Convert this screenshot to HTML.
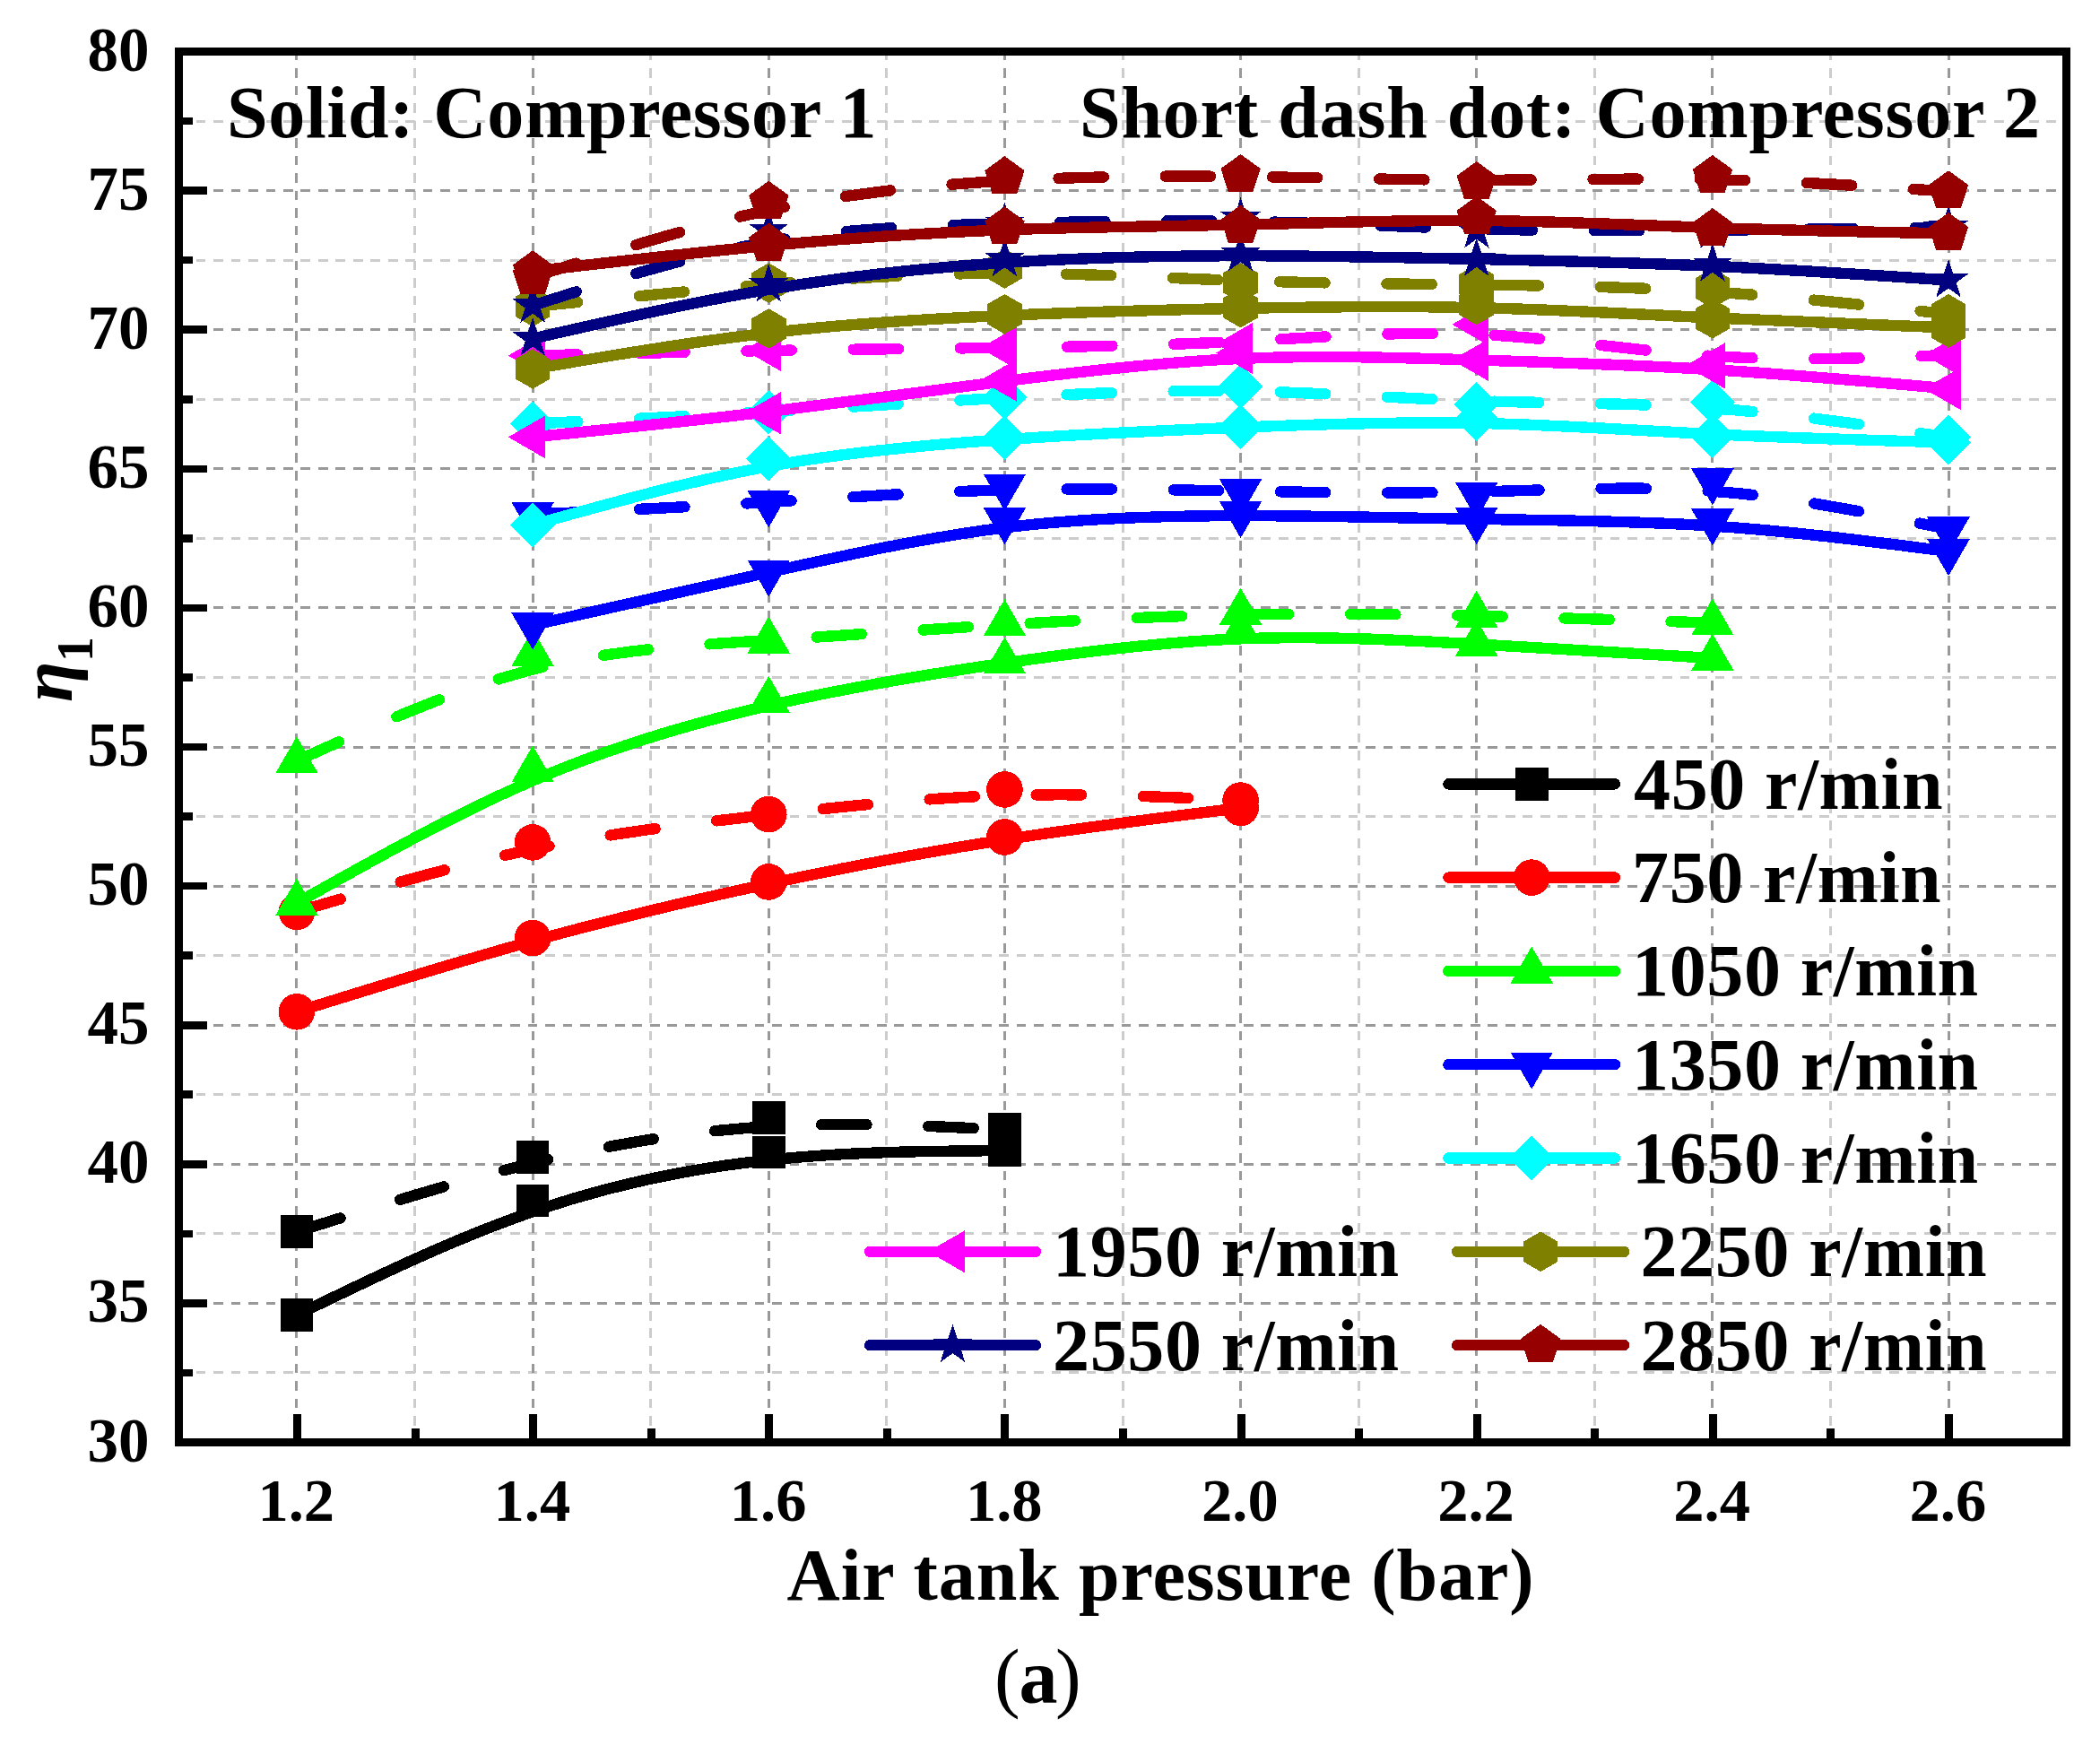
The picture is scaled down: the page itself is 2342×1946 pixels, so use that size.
<!DOCTYPE html>
<html lang="en"><head><meta charset="utf-8"><title>Compressor efficiency vs air tank pressure</title>
<style>html,body{margin:0;padding:0;background:#fff}svg{display:block}text{font-family:"Liberation Serif","Times New Roman",serif;font-weight:bold;fill:#000}</style>
</head><body>
<svg width="2342" height="1946" viewBox="0 0 2342 1946">
<rect width="2342" height="1946" fill="#fff"/>
<g fill="none" stroke-width="3" shape-rendering="crispEdges">
<path d="M199.2,1530.95H2304.6" stroke="#cccccc" stroke-dasharray="10.7 8.77"/>
<path d="M199.2,1375.85H2304.6" stroke="#cccccc" stroke-dasharray="10.7 8.77"/>
<path d="M199.2,1220.75H2304.6" stroke="#cccccc" stroke-dasharray="10.7 8.77"/>
<path d="M199.2,1065.65H2304.6" stroke="#cccccc" stroke-dasharray="10.7 8.77"/>
<path d="M199.2,910.55H2304.6" stroke="#cccccc" stroke-dasharray="10.7 8.77"/>
<path d="M199.2,755.45H2304.6" stroke="#cccccc" stroke-dasharray="10.7 8.77"/>
<path d="M199.2,600.35H2304.6" stroke="#cccccc" stroke-dasharray="10.7 8.77"/>
<path d="M199.2,445.25H2304.6" stroke="#cccccc" stroke-dasharray="10.7 8.77"/>
<path d="M199.2,290.15H2304.6" stroke="#cccccc" stroke-dasharray="10.7 8.77"/>
<path d="M199.2,135.05H2304.6" stroke="#cccccc" stroke-dasharray="10.7 8.77"/>
<path d="M462.55,56.5V1608.5" stroke="#cccccc" stroke-dasharray="10.7 8.82"/>
<path d="M725.7,56.5V1608.5" stroke="#cccccc" stroke-dasharray="10.7 8.82"/>
<path d="M988.85,56.5V1608.5" stroke="#cccccc" stroke-dasharray="10.7 8.82"/>
<path d="M1252,56.5V1608.5" stroke="#cccccc" stroke-dasharray="10.7 8.82"/>
<path d="M1515.15,56.5V1608.5" stroke="#cccccc" stroke-dasharray="10.7 8.82"/>
<path d="M1778.3,56.5V1608.5" stroke="#cccccc" stroke-dasharray="10.7 8.82"/>
<path d="M2041.45,56.5V1608.5" stroke="#cccccc" stroke-dasharray="10.7 8.82"/>
<path d="M199.2,1453.4H2304.6" stroke="#999999" stroke-dasharray="10.7 8.77"/>
<path d="M199.2,1298.3H2304.6" stroke="#999999" stroke-dasharray="10.7 8.77"/>
<path d="M199.2,1143.2H2304.6" stroke="#999999" stroke-dasharray="10.7 8.77"/>
<path d="M199.2,988.1H2304.6" stroke="#999999" stroke-dasharray="10.7 8.77"/>
<path d="M199.2,833H2304.6" stroke="#999999" stroke-dasharray="10.7 8.77"/>
<path d="M199.2,677.9H2304.6" stroke="#999999" stroke-dasharray="10.7 8.77"/>
<path d="M199.2,522.8H2304.6" stroke="#999999" stroke-dasharray="10.7 8.77"/>
<path d="M199.2,367.7H2304.6" stroke="#999999" stroke-dasharray="10.7 8.77"/>
<path d="M199.2,212.6H2304.6" stroke="#999999" stroke-dasharray="10.7 8.77"/>
<path d="M330.98,56.5V1608.5" stroke="#999999" stroke-dasharray="10.7 8.82"/>
<path d="M594.12,56.5V1608.5" stroke="#999999" stroke-dasharray="10.7 8.82"/>
<path d="M857.27,56.5V1608.5" stroke="#999999" stroke-dasharray="10.7 8.82"/>
<path d="M1120.43,56.5V1608.5" stroke="#999999" stroke-dasharray="10.7 8.82"/>
<path d="M1383.57,56.5V1608.5" stroke="#999999" stroke-dasharray="10.7 8.82"/>
<path d="M1646.72,56.5V1608.5" stroke="#999999" stroke-dasharray="10.7 8.82"/>
<path d="M1909.88,56.5V1608.5" stroke="#999999" stroke-dasharray="10.7 8.82"/>
<path d="M2173.02,56.5V1608.5" stroke="#999999" stroke-dasharray="10.7 8.82"/>
</g>
<g fill="none" stroke-width="12.4" stroke-linecap="round" stroke-linejoin="round" shape-rendering="crispEdges">
<path d="M330.97,1466.43C418.69,1423.93 506.41,1381.43 594.12,1351.19C681.84,1320.94 769.56,1302.95 857.27,1293.65C944.99,1284.34 1032.71,1283.72 1120.42,1283.1" stroke="#000000"/>
<g stroke="none"><rect x="312.62" y="1448.08" width="36.7" height="36.7" fill="#000000"/><rect x="575.77" y="1320.59" width="36.7" height="36.7" fill="#000000"/><rect x="838.92" y="1266.61" width="36.7" height="36.7" fill="#000000"/><rect x="1102.08" y="1264.75" width="36.7" height="36.7" fill="#000000"/></g>
<path d="M330.97,1373.68L340.37,1370.71L368.57,1361.82L379.52,1358.38M446.12,1337.85L453.15,1335.74L481.35,1327.4L494.88,1323.49M561.95,1305.15L565.93,1304.13L594.12,1297.11L611.17,1293.09M678.96,1278.8L688.11,1277.1L716.3,1272.19L728.71,1270.21M797.17,1261.23L800.89,1260.83L829.08,1258.24L847.33,1256.89M916.19,1254.15L923.06,1254.06L951.26,1253.97L966.49,1254.11M1035.37,1255.94L1035.84,1255.96L1064.04,1257.14L1085.63,1258.14" stroke="#000000"/>
<g stroke="none"><rect x="312.62" y="1355.33" width="36.7" height="36.7" fill="#000000"/><rect x="575.77" y="1272.2" width="36.7" height="36.7" fill="#000000"/><rect x="838.92" y="1228.46" width="36.7" height="36.7" fill="#000000"/><rect x="1102.08" y="1241.49" width="36.7" height="36.7" fill="#000000"/></g>
<path d="M330.97,1128.31C418.69,1100.91 506.41,1073.51 594.12,1049.36C681.84,1025.22 769.56,1004.33 857.27,985.57C944.99,966.8 1032.71,950.15 1120.42,936.4C1208.14,922.65 1295.86,911.79 1383.57,900.93" stroke="#ff0000"/>
<g stroke="none"><circle cx="330.97" cy="1128.31" r="20.3" fill="#ff0000"/><circle cx="594.12" cy="1046.11" r="20.3" fill="#ff0000"/><circle cx="857.27" cy="983.45" r="20.3" fill="#ff0000"/><circle cx="1120.42" cy="933.5" r="20.3" fill="#ff0000"/><circle cx="1383.57" cy="900.93" r="20.3" fill="#ff0000"/></g>
<path d="M330.97,1016.95L340.37,1014.18L368.57,1005.89L379.74,1002.63M446.65,983.52L453.15,981.71L481.35,974.07L495.65,970.31M563.08,953.84L565.93,953.19L594.12,947.1L612.57,943.4M680.7,931.44L688.11,930.28L716.3,926.1L730.6,924.1M799.09,915.37L800.89,915.16L829.08,911.88L849.14,909.6M917.74,902.09L923.06,901.53L951.26,898.67L967.85,897.08M1036.58,891.37L1045.24,890.77L1073.43,889.06L1086.81,888.39M1155.69,886.38L1158.02,886.36L1186.21,886.28L1205.99,886.43M1274.87,888.03L1280.19,888.21L1308.39,889.26L1325.14,889.95" stroke="#ff0000"/>
<g stroke="none"><circle cx="330.97" cy="1016.95" r="20.3" fill="#ff0000"/><circle cx="594.12" cy="939.4" r="20.3" fill="#ff0000"/><circle cx="857.27" cy="908.07" r="20.3" fill="#ff0000"/><circle cx="1120.42" cy="880.46" r="20.3" fill="#ff0000"/><circle cx="1383.57" cy="892.56" r="20.3" fill="#ff0000"/></g>
<path d="M330.97,1007.02C418.69,957.6 506.41,908.17 594.12,870.53C681.84,832.9 769.56,807.05 857.27,786.88C944.99,766.72 1032.71,752.24 1120.42,739.47C1208.14,726.7 1295.86,715.64 1383.57,712.33C1471.29,709.02 1559.01,713.47 1646.72,718.38C1734.44,723.29 1822.16,728.67 1909.87,734.05" stroke="#00ff00"/>
<g stroke="none"><polygon points="330.97,979.66 307.27,1020.71 354.67,1020.71" fill="#00ff00"/><polygon points="594.12,831.38 570.42,872.43 617.82,872.43" fill="#00ff00"/><polygon points="857.27,753.83 833.57,794.88 880.97,794.88" fill="#00ff00"/><polygon points="1120.42,710.4 1096.72,751.45 1144.12,751.45" fill="#00ff00"/><polygon points="1383.57,677.21 1359.87,718.26 1407.27,718.26" fill="#00ff00"/><polygon points="1646.72,690.55 1623.02,731.6 1670.42,731.6" fill="#00ff00"/><polygon points="1909.87,706.68 1886.17,747.73 1933.57,747.73" fill="#00ff00"/></g>
<path d="M330.97,848.51L340.37,844.25L368.57,831.5L377.86,827.33M442.4,799.28L443.75,798.71L471.95,787.23L489.95,780.23M555.98,757.36L556.53,757.18L584.73,749.06L604.93,743.96M672.89,730.83L678.71,729.95L706.9,726.17L722.87,724.35M791.57,718.3L800.89,717.64L829.08,715.78L841.79,714.97M910.58,710.51L913.66,710.3L941.86,708.41L960.8,707.13M1029.58,702.49L1035.84,702.08L1064.04,700.22L1079.8,699.2M1148.61,695L1148.62,694.99L1176.81,693.41L1198.85,692.24M1267.7,689.02L1270.8,688.89L1298.99,687.81L1317.97,687.17M1386.86,685.44L1392.97,685.34L1421.17,684.97L1437.15,684.84M1506.05,684.8L1515.15,684.86L1543.34,685.11L1556.35,685.27M1625.24,686.44L1627.93,686.49L1656.12,687.11L1675.53,687.57M1744.42,689.42L1750.11,689.59L1778.3,690.42L1794.7,690.93M1863.57,693.13L1872.28,693.41L1900.48,694.34L1909.87,694.65" stroke="#00ff00"/>
<g stroke="none"><polygon points="330.97,821.14 307.27,862.19 354.67,862.19" fill="#00ff00"/><polygon points="594.12,701.72 570.42,742.77 617.82,742.77" fill="#00ff00"/><polygon points="857.27,687.45 833.57,728.5 880.97,728.5" fill="#00ff00"/><polygon points="1120.42,668.21 1096.72,709.26 1144.12,709.26" fill="#00ff00"/><polygon points="1383.57,655.5 1359.87,696.55 1407.27,696.55" fill="#00ff00"/><polygon points="1646.72,658.6 1623.02,699.65 1670.42,699.65" fill="#00ff00"/><polygon points="1909.87,667.28 1886.17,708.33 1933.57,708.33" fill="#00ff00"/></g>
<path d="M594.12,697.13C681.84,677.49 769.56,657.84 857.27,638.3C944.99,618.76 1032.71,599.32 1120.42,588.41C1208.14,577.5 1295.86,575.12 1383.57,575.12C1471.29,575.12 1559.01,577.5 1646.72,578.89C1734.44,580.29 1822.16,580.7 1909.87,586.55C1997.59,592.39 2085.31,603.66 2173.02,614.93" stroke="#0000ff"/>
<g stroke="none"><polygon points="594.12,724.5 570.42,683.45 617.82,683.45" fill="#0000ff"/><polygon points="857.27,665.56 833.57,624.51 880.97,624.51" fill="#0000ff"/><polygon points="1120.42,607.24 1096.72,566.19 1144.12,566.19" fill="#0000ff"/><polygon points="1383.57,600.11 1359.87,559.06 1407.27,559.06" fill="#0000ff"/><polygon points="1646.72,607.24 1623.02,566.19 1670.42,566.19" fill="#0000ff"/><polygon points="1909.87,608.48 1886.17,567.43 1933.57,567.43" fill="#0000ff"/><polygon points="2173.02,642.3 2149.32,601.25 2196.72,601.25" fill="#0000ff"/></g>
<path d="M594.12,573.67L603.52,573.22L631.72,571.85L644.38,571.24M713.22,567.83L716.3,567.67L744.5,566.22L763.47,565.23M832.29,561.43L838.48,561.08L866.67,559.41L882.53,558.45M951.33,554.23L960.66,553.67L988.85,552.03L1001.57,551.32M1070.41,548.02L1073.43,547.9L1101.63,546.9L1120.69,546.37M1189.58,545.42L1195.61,545.4L1223.81,545.42L1239.88,545.51M1308.78,546.32L1317.79,546.46L1345.98,546.94L1359.07,547.18M1427.97,548.36L1430.57,548.4L1458.76,548.8L1478.26,549.03M1547.16,549.45L1552.74,549.45L1580.94,549.36L1597.46,549.23M1666.35,547.96L1674.92,547.72L1703.11,546.88L1716.64,546.48M1785.52,544.83L1787.7,544.8L1815.89,544.61L1835.82,544.73M1904.68,547.36L1909.87,547.72L1938.07,550.16L1954.82,551.97M2023.22,561.52L2032.05,562.98L2060.25,567.89L2072.96,570.23M2140.9,583.55L2144.83,584.34L2173.02,590.11" stroke="#0000ff"/>
<g stroke="none"><polygon points="594.12,601.04 570.42,559.99 617.82,559.99" fill="#0000ff"/><polygon points="857.27,588.32 833.57,547.27 880.97,547.27" fill="#0000ff"/><polygon points="1120.42,569.71 1096.72,528.66 1144.12,528.66" fill="#0000ff"/><polygon points="1383.57,575.29 1359.87,534.24 1407.27,534.24" fill="#0000ff"/><polygon points="1646.72,579.02 1623.02,537.97 1670.42,537.97" fill="#0000ff"/><polygon points="1909.87,563.51 1886.17,522.46 1933.57,522.46" fill="#0000ff"/><polygon points="2173.02,617.48 2149.32,576.43 2196.72,576.43" fill="#0000ff"/></g>
<path d="M594.12,585.46C681.84,560.85 769.56,536.24 857.27,520.06C944.99,503.88 1032.71,496.12 1120.42,490.18C1208.14,484.23 1295.86,480.1 1383.57,476.58C1471.29,473.06 1559.01,470.17 1646.72,471.88C1734.44,473.58 1822.16,479.89 1909.87,484.23C1997.59,488.57 2085.31,490.95 2173.02,493.33" stroke="#00ffff"/>
<g stroke="none"><polygon points="594.12,560.56 619.02,585.46 594.12,610.36 569.22,585.46" fill="#00ffff"/><polygon points="857.27,486.73 882.17,511.63 857.27,536.53 832.37,511.63" fill="#00ffff"/><polygon points="1120.42,463.47 1145.33,488.37 1120.42,513.27 1095.52,488.37" fill="#00ffff"/><polygon points="1383.57,451.06 1408.47,475.96 1383.57,500.86 1358.67,475.96" fill="#00ffff"/><polygon points="1646.72,442.37 1671.62,467.27 1646.72,492.17 1621.82,467.27" fill="#00ffff"/><polygon points="1909.87,461.3 1934.77,486.2 1909.87,511.1 1884.97,486.2" fill="#00ffff"/><polygon points="2173.02,468.43 2197.92,493.33 2173.02,518.23 2148.12,493.33" fill="#00ffff"/></g>
<path d="M594.12,472.55L603.52,472.09L631.72,470.73L644.38,470.11M713.22,466.72L716.3,466.57L744.5,465.15L763.47,464.17M832.3,460.5L838.48,460.16L866.67,458.57L882.54,457.66M951.35,453.58L960.66,453.02L988.85,451.32L1001.58,450.55M1070.39,446.47L1073.43,446.3L1101.63,444.69L1120.63,443.64M1189.47,440.13L1195.61,439.84L1223.81,438.65L1239.74,438.06M1308.62,436.29L1317.79,436.17L1345.98,435.99L1358.92,436.02M1427.81,437.34L1430.57,437.43L1458.76,438.49L1478.08,439.33M1546.92,442.7L1552.74,442.99L1580.94,444.38L1597.17,445.14M1666.04,447.69L1674.92,447.93L1703.11,448.56L1716.33,448.82M1785.22,450.15L1787.7,450.2L1815.89,450.92L1835.5,451.55M1904.34,454.96L1909.87,455.33L1938.07,457.54L1954.51,459.04M2023.11,466.59L2032.05,467.72L2060.25,471.41L2073.09,473.17M2141.46,483.03L2144.83,483.54L2173.02,487.75" stroke="#00ffff"/>
<g stroke="none"><polygon points="594.12,447.65 619.02,472.55 594.12,497.45 569.22,472.55" fill="#00ffff"/><polygon points="857.27,434.93 882.17,459.83 857.27,484.73 832.37,459.83" fill="#00ffff"/><polygon points="1120.42,417.87 1145.33,442.77 1120.42,467.67 1095.52,442.77" fill="#00ffff"/><polygon points="1383.57,406.08 1408.47,430.98 1383.57,455.88 1358.67,430.98" fill="#00ffff"/><polygon points="1646.72,425.93 1671.62,450.83 1646.72,475.73 1621.82,450.83" fill="#00ffff"/><polygon points="1909.87,423.45 1934.77,448.35 1909.87,473.25 1884.97,448.35" fill="#00ffff"/><polygon points="2173.02,462.85 2197.92,487.75 2173.02,512.65 2148.12,487.75" fill="#00ffff"/></g>
<path d="M594.12,487.44C681.84,478.54 769.56,469.65 857.27,459.11C944.99,448.56 1032.71,436.36 1120.42,425.14C1208.14,413.92 1295.86,403.68 1383.57,399.91C1471.29,396.13 1559.01,398.82 1646.72,401.51C1734.44,404.2 1822.16,406.89 1909.87,412.21C1997.59,417.54 2085.31,425.5 2173.02,433.46" stroke="#ff00ff"/>
<g stroke="none"><polygon points="566.76,487.44 607.81,463.74 607.81,511.14" fill="#ff00ff"/><polygon points="829.91,460.76 870.96,437.06 870.96,484.46" fill="#ff00ff"/><polygon points="1093.06,424.16 1134.11,400.46 1134.11,447.86" fill="#ff00ff"/><polygon points="1356.21,393.45 1397.26,369.75 1397.26,417.15" fill="#ff00ff"/><polygon points="1619.36,401.51 1660.41,377.81 1660.41,425.21" fill="#ff00ff"/><polygon points="1882.51,409.58 1923.56,385.88 1923.56,433.28" fill="#ff00ff"/><polygon points="2145.66,433.46 2186.71,409.76 2186.71,457.16" fill="#ff00ff"/></g>
<path d="M594.12,396.55L603.52,396.33L631.72,395.66L644.41,395.37M713.3,393.8L716.3,393.74L744.5,393.13L763.59,392.73M832.48,391.43L838.48,391.33L866.67,390.87L882.78,390.63M951.67,389.72L960.66,389.62L988.85,389.29L1001.97,389.14M1070.87,388.37L1073.43,388.34L1101.63,388L1121.17,387.75M1190.06,386.72L1195.61,386.63L1223.81,386.08L1240.35,385.72M1309.23,383.77L1317.79,383.48L1345.98,382.39L1359.5,381.81M1428.34,378.26L1430.57,378.13L1458.76,376.54L1478.58,375.46M1547.43,372.51L1552.74,372.36L1580.94,371.84L1597.72,371.77M1666.59,373.86L1674.92,374.39L1703.11,376.56L1716.78,377.8M1785.4,385.02L1787.7,385.27L1815.89,388.41L1835.47,390.51M1904.17,396.67L1909.87,397.07L1938.07,398.59L1954.42,399.21M2023.31,400.08L2032.05,400.01L2060.25,399.6L2073.61,399.3M2142.48,397.1L2144.83,397.01L2173.02,395.93" stroke="#ff00ff"/>
<g stroke="none"><polygon points="566.76,396.55 607.81,372.85 607.81,420.25" fill="#ff00ff"/><polygon points="829.91,390.34 870.96,366.64 870.96,414.04" fill="#ff00ff"/><polygon points="1093.06,388.17 1134.11,364.47 1134.11,411.87" fill="#ff00ff"/><polygon points="1356.21,383.52 1397.26,359.82 1397.26,407.22" fill="#ff00ff"/><polygon points="1619.36,361.81 1660.41,338.11 1660.41,385.51" fill="#ff00ff"/><polygon points="1882.51,406.16 1923.56,382.46 1923.56,429.86" fill="#ff00ff"/><polygon points="2145.66,395.93 2186.71,372.23 2186.71,419.63" fill="#ff00ff"/></g>
<path d="M594.12,411.44C681.84,396.45 769.56,381.45 857.27,371.27C944.99,361.08 1032.71,355.71 1120.42,351.83C1208.14,347.95 1295.86,345.57 1383.57,343.87C1471.29,342.16 1559.01,341.13 1646.72,343.14C1734.44,345.16 1822.16,350.23 1909.87,354.46C1997.59,358.7 2085.31,362.12 2173.02,365.53" stroke="#808000"/>
<g stroke="none"><polygon points="594.12,389.14 613.44,400.29 613.44,422.59 594.12,433.74 574.81,422.59 574.81,400.29" fill="#808000"/><polygon points="857.27,344.16 876.59,355.31 876.59,377.61 857.27,388.76 837.96,377.61 837.96,355.31" fill="#808000"/><polygon points="1120.42,328.03 1139.74,339.18 1139.74,361.48 1120.42,372.63 1101.11,361.48 1101.11,339.18" fill="#808000"/><polygon points="1383.57,320.89 1402.89,332.04 1402.89,354.34 1383.57,365.49 1364.26,354.34 1364.26,332.04" fill="#808000"/><polygon points="1646.72,317.79 1666.04,328.94 1666.04,351.24 1646.72,362.39 1627.41,351.24 1627.41,328.94" fill="#808000"/><polygon points="1909.87,332.99 1929.19,344.14 1929.19,366.44 1909.87,377.59 1890.56,366.44 1890.56,344.14" fill="#808000"/><polygon points="2173.02,343.23 2192.34,354.38 2192.34,376.68 2173.02,387.83 2153.71,376.68 2153.71,354.38" fill="#808000"/></g>
<path d="M594.12,341.95L603.52,341.01L631.72,338.19L644.24,336.94M712.9,330.21L716.3,329.88L744.5,327.2L763.03,325.48M831.73,319.4L838.48,318.84L866.67,316.54L881.91,315.35M950.69,310.56L951.26,310.52L979.45,308.89L1000.93,307.81M1069.8,305.38L1073.43,305.3L1101.63,304.87L1120.1,304.78M1188.99,305.69L1195.61,305.86L1223.81,306.72L1239.27,307.27M1308.13,310.02L1308.39,310.03L1336.58,311.19L1358.4,312.05M1427.27,314.24L1430.57,314.32L1458.76,314.97L1477.57,315.34M1546.46,316.4L1552.74,316.48L1580.94,316.81L1596.76,316.99M1665.65,317.78L1674.92,317.9L1703.11,318.31L1715.95,318.52M1784.84,320.05L1787.7,320.13L1815.89,321.03L1835.11,321.75M1903.95,325.2L1909.87,325.56L1938.07,327.48L1954.16,328.69M2022.87,334.63L2032.05,335.5L2060.25,338.29L2072.99,339.59M2141.6,346.89L2144.83,347.24L2173.02,350.33" stroke="#808000"/>
<g stroke="none"><polygon points="594.12,319.65 613.44,330.8 613.44,353.1 594.12,364.25 574.81,353.1 574.81,330.8" fill="#808000"/><polygon points="857.27,293.29 876.59,304.44 876.59,326.74 857.27,337.89 837.96,326.74 837.96,304.44" fill="#808000"/><polygon points="1120.42,277.16 1139.74,288.31 1139.74,310.61 1120.42,321.76 1101.11,310.61 1101.11,288.31" fill="#808000"/><polygon points="1383.57,292.98 1402.89,304.13 1402.89,326.43 1383.57,337.58 1364.26,326.43 1364.26,304.13" fill="#808000"/><polygon points="1646.72,294.84 1666.04,305.99 1666.04,328.29 1646.72,339.44 1627.41,328.29 1627.41,305.99" fill="#808000"/><polygon points="1909.87,299.18 1929.19,310.33 1929.19,332.63 1909.87,343.78 1890.56,332.63 1890.56,310.33" fill="#808000"/><polygon points="2173.02,328.03 2192.34,339.18 2192.34,361.48 2173.02,372.63 2153.71,361.48 2153.71,339.18" fill="#808000"/></g>
<path d="M594.12,377.63C681.84,357.57 769.56,337.51 857.27,322.77C944.99,308.04 1032.71,298.63 1120.42,292.94C1208.14,287.25 1295.86,285.29 1383.57,285.24C1471.29,285.19 1559.01,287.05 1646.72,288.96C1734.44,290.87 1822.16,292.84 1909.87,296.77C1997.59,300.7 2085.31,306.59 2173.02,312.48" stroke="#000080"/>
<g stroke="none"><polygon points="594.12,354.13 599.4,370.36 616.47,370.36 602.66,380.4 607.94,396.64 594.12,386.6 580.31,396.64 585.59,380.4 571.78,370.36 588.85,370.36" fill="#000080"/><polygon points="857.27,293.95 862.55,310.19 879.62,310.19 865.81,320.22 871.09,336.46 857.27,326.42 843.46,336.46 848.74,320.22 834.93,310.19 852,310.19" fill="#000080"/><polygon points="1120.42,265.72 1125.7,281.96 1142.77,281.96 1128.96,291.99 1134.24,308.23 1120.42,298.2 1106.61,308.23 1111.89,291.99 1098.08,281.96 1115.15,281.96" fill="#000080"/><polygon points="1383.57,259.83 1388.85,276.06 1405.92,276.06 1392.11,286.1 1397.39,302.34 1383.57,292.3 1369.76,302.34 1375.04,286.1 1361.23,276.06 1378.3,276.06" fill="#000080"/><polygon points="1646.72,265.41 1652,281.65 1669.07,281.65 1655.26,291.68 1660.54,307.92 1646.72,297.89 1632.91,307.92 1638.19,291.68 1624.38,281.65 1641.45,281.65" fill="#000080"/><polygon points="1909.87,271.3 1915.15,287.54 1932.22,287.54 1918.41,297.58 1923.69,313.81 1909.87,303.78 1896.06,313.81 1901.34,297.58 1887.53,287.54 1904.6,287.54" fill="#000080"/><polygon points="2173.02,288.98 2178.3,305.22 2195.37,305.22 2181.56,315.26 2186.84,331.5 2173.02,321.46 2159.21,331.5 2164.49,315.26 2150.68,305.22 2167.75,305.22" fill="#000080"/></g>
<path d="M594.12,340.71L603.52,337.72L631.72,328.78L642.66,325.35M709.32,305.11L716.3,303.09L744.5,295.21L758.25,291.54M825.77,275.6L829.08,274.91L857.27,269.57L875.46,266.58M943.97,258.13L951.26,257.45L979.45,255.2L994.15,254.23M1063,251.01L1064.04,250.97L1092.23,250.1L1113.28,249.54M1182.17,247.91L1186.21,247.82L1214.41,247.28L1232.46,246.98M1301.36,246.33L1308.39,246.31L1336.58,246.34L1351.66,246.44M1420.55,247.61L1421.17,247.63L1449.36,248.43L1470.83,249.12M1539.7,251.63L1543.34,251.77L1571.54,252.82L1589.97,253.48M1658.85,255.56L1665.52,255.72L1693.72,256.29L1709.14,256.53M1778.04,257.2L1778.3,257.2L1806.49,257.28L1828.34,257.27M1897.24,256.95L1900.48,256.93L1928.67,256.69L1947.54,256.5M2016.43,255.67L2022.65,255.58L2050.85,255.18L2066.73,254.94M2135.62,253.85L2144.83,253.7L2173.02,253.24" stroke="#000080"/>
<g stroke="none"><polygon points="594.12,317.21 599.4,333.45 616.47,333.45 602.66,343.49 607.94,359.72 594.12,349.69 580.31,359.72 585.59,343.49 571.78,333.45 588.85,333.45" fill="#000080"/><polygon points="857.27,233.46 862.55,249.7 879.62,249.7 865.81,259.73 871.09,275.97 857.27,265.93 843.46,275.97 848.74,259.73 834.93,249.7 852,249.7" fill="#000080"/><polygon points="1120.42,225.39 1125.7,241.63 1142.77,241.63 1128.96,251.67 1134.24,267.91 1120.42,257.87 1106.61,267.91 1111.89,251.67 1098.08,241.63 1115.15,241.63" fill="#000080"/><polygon points="1383.57,220.12 1388.85,236.36 1405.92,236.36 1392.11,246.39 1397.39,262.63 1383.57,252.6 1369.76,262.63 1375.04,246.39 1361.23,236.36 1378.3,236.36" fill="#000080"/><polygon points="1646.72,234.08 1652,250.32 1669.07,250.32 1655.26,260.35 1660.54,276.59 1646.72,266.56 1632.91,276.59 1638.19,260.35 1624.38,250.32 1641.45,250.32" fill="#000080"/><polygon points="1909.87,234.08 1915.15,250.32 1932.22,250.32 1918.41,260.35 1923.69,276.59 1909.87,266.56 1896.06,276.59 1901.34,260.35 1887.53,250.32 1904.6,250.32" fill="#000080"/><polygon points="2173.02,229.74 2178.3,245.97 2195.37,245.97 2181.56,256.01 2186.84,272.25 2173.02,262.21 2159.21,272.25 2164.49,256.01 2150.68,245.97 2167.75,245.97" fill="#000080"/></g>
<path d="M594.12,302.56C681.84,292.32 769.56,282.08 857.27,273.92C944.99,265.75 1032.71,259.65 1120.42,256.34C1208.14,253.03 1295.86,252.51 1383.57,250.6C1471.29,248.69 1559.01,245.38 1646.72,245.95C1734.44,246.52 1822.16,250.96 1909.87,254.01C1997.59,257.06 2085.31,258.72 2173.02,260.37" stroke="#960000"/>
<g stroke="none"><polygon points="594.12,279.26 616.28,295.36 607.82,321.41 580.43,321.41 571.97,295.36" fill="#960000"/><polygon points="857.27,248.55 879.43,264.65 870.97,290.7 843.58,290.7 835.12,264.65" fill="#960000"/><polygon points="1120.42,230.25 1142.58,246.35 1134.12,272.4 1106.73,272.4 1098.27,246.35" fill="#960000"/><polygon points="1383.57,228.7 1405.73,244.8 1397.27,270.85 1369.88,270.85 1361.42,244.8" fill="#960000"/><polygon points="1646.72,218.77 1668.88,234.87 1660.42,260.92 1633.03,260.92 1624.57,234.87" fill="#960000"/><polygon points="1909.87,232.11 1932.03,248.21 1923.57,274.26 1896.18,274.26 1887.72,248.21" fill="#960000"/><polygon points="2173.02,237.07 2195.18,253.17 2186.72,279.22 2159.33,279.22 2150.87,253.17" fill="#960000"/></g>
<path d="M594.12,309.07L603.52,306.07L631.72,297.09L642.64,293.63M709.24,273.09L716.3,270.98L744.5,262.79L758.05,258.99M825.31,241.61L829.08,240.71L857.27,234.42L874.75,230.84M942.89,219.06L951.26,217.84L979.45,214.06L992.87,212.44M1061.52,205.67L1064.04,205.47L1092.23,203.39L1111.73,202.15M1180.57,198.87L1186.21,198.67L1214.41,197.83L1230.85,197.45M1299.75,196.6L1308.39,196.57L1336.58,196.59L1350.05,196.65M1418.94,197.41L1421.17,197.45L1449.36,197.93L1469.24,198.29M1538.13,199.57L1543.34,199.66L1571.54,200.11L1588.42,200.33M1657.32,200.77L1665.52,200.76L1693.72,200.64L1707.62,200.54M1776.52,199.94L1778.3,199.92L1806.49,199.72L1826.82,199.64M1895.72,200.01L1900.48,200.08L1928.67,200.67L1946.01,201.17M2014.87,203.98L2022.65,204.37L2050.85,205.87L2065.11,206.69M2133.91,210.96L2135.43,211.06L2163.63,212.91L2173.02,213.53" stroke="#960000"/>
<g stroke="none"><polygon points="594.12,285.77 616.28,301.87 607.82,327.92 580.43,327.92 571.97,301.87" fill="#960000"/><polygon points="857.27,201.71 879.43,217.81 870.97,243.86 843.58,243.86 835.12,217.81" fill="#960000"/><polygon points="1120.42,174.1 1142.58,190.2 1134.12,216.25 1106.73,216.25 1098.27,190.2" fill="#960000"/><polygon points="1383.57,171.93 1405.73,188.03 1397.27,214.08 1369.88,214.08 1361.42,188.03" fill="#960000"/><polygon points="1646.72,179.99 1668.88,196.09 1660.42,222.14 1633.03,222.14 1624.57,196.09" fill="#960000"/><polygon points="1909.87,172.86 1932.03,188.96 1923.57,215.01 1896.18,215.01 1887.72,188.96" fill="#960000"/><polygon points="2173.02,190.23 2195.18,206.33 2186.72,232.38 2159.33,232.38 2150.87,206.33" fill="#960000"/></g>
</g>
<g shape-rendering="crispEdges">
<path d="M1615.4,874.3H1801" stroke="#000000" stroke-width="12.4" stroke-linecap="round" fill="none"/>
<rect x="1689.85" y="855.95" width="36.7" height="36.7" fill="#000000"/>
<path d="M1615.4,978.6H1801" stroke="#ff0000" stroke-width="12.4" stroke-linecap="round" fill="none"/>
<circle cx="1708.2" cy="978.6" r="20.3" fill="#ff0000"/>
<path d="M1615.4,1082.9H1801" stroke="#00ff00" stroke-width="12.4" stroke-linecap="round" fill="none"/>
<polygon points="1708.2,1055.53 1684.5,1096.58 1731.9,1096.58" fill="#00ff00"/>
<path d="M1615.4,1187.2H1801" stroke="#0000ff" stroke-width="12.4" stroke-linecap="round" fill="none"/>
<polygon points="1708.2,1214.57 1684.5,1173.52 1731.9,1173.52" fill="#0000ff"/>
<path d="M1615.4,1291.5H1801" stroke="#00ffff" stroke-width="12.4" stroke-linecap="round" fill="none"/>
<polygon points="1708.2,1266.6 1733.1,1291.5 1708.2,1316.4 1683.3,1291.5" fill="#00ffff"/>
<path d="M970.2,1395.8H1154.8" stroke="#ff00ff" stroke-width="12.4" stroke-linecap="round" fill="none"/>
<polygon points="1035.13,1395.8 1076.18,1372.1 1076.18,1419.5" fill="#ff00ff"/>
<path d="M970.2,1500.1H1154.8" stroke="#000080" stroke-width="12.4" stroke-linecap="round" fill="none"/>
<polygon points="1062.5,1476.6 1067.78,1492.84 1084.85,1492.84 1071.04,1502.87 1076.31,1519.11 1062.5,1509.08 1048.69,1519.11 1053.96,1502.87 1040.15,1492.84 1057.22,1492.84" fill="#000080"/>
<path d="M1625.2,1395.8H1811.1" stroke="#808000" stroke-width="12.4" stroke-linecap="round" fill="none"/>
<polygon points="1718.15,1373.5 1737.46,1384.65 1737.46,1406.95 1718.15,1418.1 1698.84,1406.95 1698.84,1384.65" fill="#808000"/>
<path d="M1625.2,1500.1H1811.1" stroke="#960000" stroke-width="12.4" stroke-linecap="round" fill="none"/>
<polygon points="1718.15,1476.8 1740.31,1492.9 1731.85,1518.95 1704.45,1518.95 1695.99,1492.9" fill="#960000"/>
</g>
<text x="1822" y="901.7" font-size="82" letter-spacing="0.65">450 r/min</text>
<text x="1820" y="1006" font-size="82" letter-spacing="0.65">750 r/min</text>
<text x="1820" y="1110.3" font-size="82" letter-spacing="0.65">1050 r/min</text>
<text x="1820" y="1214.6" font-size="82" letter-spacing="0.65">1350 r/min</text>
<text x="1820" y="1318.9" font-size="82" letter-spacing="0.65">1650 r/min</text>
<text x="1174" y="1423.2" font-size="82" letter-spacing="0.65">1950 r/min</text>
<text x="1174" y="1527.5" font-size="82" letter-spacing="0.65">2550 r/min</text>
<text x="1829.5" y="1423.2" font-size="82" letter-spacing="0.65">2250 r/min</text>
<text x="1829.5" y="1527.5" font-size="82" letter-spacing="0.65">2850 r/min</text>
<g stroke="#000" fill="none" shape-rendering="crispEdges">
<rect x="199.4" y="57.5" width="2105.2" height="1551" stroke-width="8.8"/>
<path d="M199.4,1530.95h15.6" stroke-width="8.6"/>
<path d="M199.4,1453.4h31.6" stroke-width="8.6"/>
<path d="M199.4,1375.85h15.6" stroke-width="8.6"/>
<path d="M199.4,1298.3h31.6" stroke-width="8.6"/>
<path d="M199.4,1220.75h15.6" stroke-width="8.6"/>
<path d="M199.4,1143.2h31.6" stroke-width="8.6"/>
<path d="M199.4,1065.65h15.6" stroke-width="8.6"/>
<path d="M199.4,988.1h31.6" stroke-width="8.6"/>
<path d="M199.4,910.55h15.6" stroke-width="8.6"/>
<path d="M199.4,833h31.6" stroke-width="8.6"/>
<path d="M199.4,755.45h15.6" stroke-width="8.6"/>
<path d="M199.4,677.9h31.6" stroke-width="8.6"/>
<path d="M199.4,600.35h15.6" stroke-width="8.6"/>
<path d="M199.4,522.8h31.6" stroke-width="8.6"/>
<path d="M199.4,445.25h15.6" stroke-width="8.6"/>
<path d="M199.4,367.7h31.6" stroke-width="8.6"/>
<path d="M199.4,290.15h15.6" stroke-width="8.6"/>
<path d="M199.4,212.6h31.6" stroke-width="8.6"/>
<path d="M199.4,135.05h15.6" stroke-width="8.6"/>
<path d="M331.43,1608.5v-31.6" stroke-width="9"/>
<path d="M463,1608.5v-15.6" stroke-width="9"/>
<path d="M594.58,1608.5v-31.6" stroke-width="9"/>
<path d="M726.15,1608.5v-15.6" stroke-width="9"/>
<path d="M857.72,1608.5v-31.6" stroke-width="9"/>
<path d="M989.3,1608.5v-15.6" stroke-width="9"/>
<path d="M1120.88,1608.5v-31.6" stroke-width="9"/>
<path d="M1252.45,1608.5v-15.6" stroke-width="9"/>
<path d="M1384.02,1608.5v-31.6" stroke-width="9"/>
<path d="M1515.6,1608.5v-15.6" stroke-width="9"/>
<path d="M1647.17,1608.5v-31.6" stroke-width="9"/>
<path d="M1778.75,1608.5v-15.6" stroke-width="9"/>
<path d="M1910.33,1608.5v-31.6" stroke-width="9"/>
<path d="M2041.9,1608.5v-15.6" stroke-width="9"/>
<path d="M2173.47,1608.5v-31.6" stroke-width="9"/>
</g>
<g font-size="69" text-anchor="end">
<text x="166.5" y="1629.5">30</text>
<text x="166.5" y="1474.4">35</text>
<text x="166.5" y="1319.3">40</text>
<text x="166.5" y="1164.2">45</text>
<text x="166.5" y="1009.1">50</text>
<text x="166.5" y="854">55</text>
<text x="166.5" y="698.9">60</text>
<text x="166.5" y="543.8">65</text>
<text x="166.5" y="388.7">70</text>
<text x="166.5" y="233.6">75</text>
<text x="166.5" y="78.5">80</text>
</g>
<g font-size="68.5" text-anchor="middle">
<text x="330.27" y="1696">1.2</text>
<text x="593.42" y="1696">1.4</text>
<text x="856.57" y="1696">1.6</text>
<text x="1119.72" y="1696">1.8</text>
<text x="1382.87" y="1696">2.0</text>
<text x="1646.02" y="1696">2.2</text>
<text x="1909.17" y="1696">2.4</text>
<text x="2172.32" y="1696">2.6</text>
</g>
<text x="1294.5" y="1784.3" font-size="82" letter-spacing="0.9" text-anchor="middle">Air tank pressure (bar)</text>
<text y="1898.7" font-size="86"><tspan x="1109" font-weight="normal">(</tspan><tspan x="1136.5">a</tspan><tspan x="1177" font-weight="normal">)</tspan></text>
<text x="253" y="152.7" font-size="82" letter-spacing="0.68">Solid: Compressor 1</text>
<text x="1204" y="152.7" font-size="82" letter-spacing="0.8">Short dash dot: Compressor 2</text>
<text transform="translate(79.5,783) rotate(-90)" font-size="83" font-style="italic">η</text>
<text transform="translate(103,738) rotate(-90)" font-size="56">1</text>
</svg>
</body></html>
